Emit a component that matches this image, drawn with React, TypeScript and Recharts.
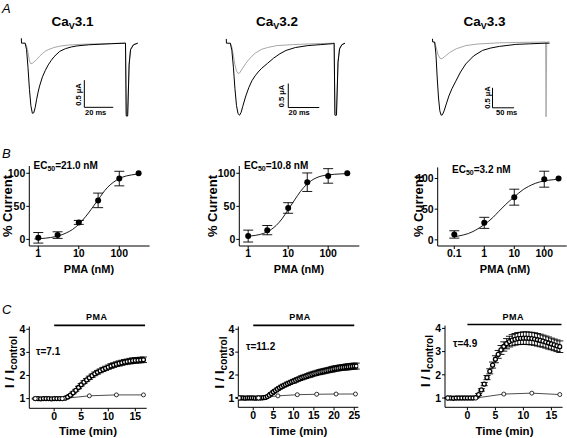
import React from "react";
import {
  ComposedChart,
  Line,
  Scatter,
  XAxis,
  YAxis,
  ErrorBar,
  ReferenceLine,
} from "recharts";

const FONT = "'Liberation Sans', Arial, Helvetica, sans-serif";

// A: current traces, [time (ms), current (uA)]; grey = control, black = PMA
const a1Control = [
  [0, 0], [1, -0.05], [2, -0.17], [3, -0.33], [4, -0.38], [5, -0.37], [6, -0.35],
  [8, -0.3], [10, -0.24], [12, -0.19], [14, -0.15], [16, -0.12], [20, -0.08],
  [24, -0.055], [30, -0.035], [40, -0.02], [55, -0.01], [69.5, 0], [70, -1.3],
  [71, -1.3], [72, -0.38], [73, -0.11], [75, -0.03], [78, 0],
];
const a1Pma = [
  [-2.6, 0.09], [-2.5, 0], [0, 0], [1, -0.12], [2, -0.45], [3, -0.85], [4, -1.15],
  [5, -1.29], [6, -1.28], [7, -1.18], [8, -1.03], [9, -0.9], [10, -0.79],
  [12, -0.62], [14, -0.5], [16, -0.4], [18, -0.32], [20, -0.25], [24, -0.15],
  [28, -0.1], [32, -0.07], [36, -0.05], [44, -0.03], [52, -0.02], [60, -0.01],
  [69.5, 0], [70, -1.34], [71, -1.34], [72, -0.4], [73, -0.12], [75, -0.03], [78, 0],
];
const a2Control = [
  [0, 0], [1, -0.08], [2, -0.25], [3, -0.45], [4, -0.58], [5, -0.63], [6, -0.62],
  [8, -0.52], [10, -0.42], [12, -0.34], [14, -0.27], [16, -0.21], [20, -0.13],
  [24, -0.09], [30, -0.05], [40, -0.03], [55, -0.01], [67, 0], [67.5, -1.45],
  [68.5, -1.45], [69.5, -0.38], [70.5, -0.1], [72, -0.03], [74, 0],
];
const a2Pma = [
  [-2.6, 0.09], [-2.5, 0], [0, 0], [1, -0.15], [2, -0.5], [3, -0.95], [4, -1.3],
  [5, -1.47], [6, -1.5], [7, -1.44], [8, -1.32], [10, -1.1], [12, -0.92],
  [14, -0.78], [16, -0.68], [18, -0.6], [20, -0.53], [24, -0.42], [28, -0.31],
  [32, -0.22], [36, -0.15], [42, -0.09], [50, -0.05], [58, -0.03], [66, -0.01],
  [67, 0], [67.5, -1.5], [68.5, -1.5], [69.5, -0.4], [70.5, -0.12], [72, -0.03], [74, 0],
];
const a3Control = [
  [0, 0], [4, -0.15], [8, -0.32], [12, -0.4], [15, -0.42], [18, -0.41], [25, -0.35],
  [35, -0.26], [50, -0.17], [72, -0.09], [100, -0.05], [150, -0.02], [200, -0.01],
  [257, 0], [258, -1.87], [259.5, 0], [266, 0],
];
const a3Pma = [
  [-5, 0.08], [-4.5, 0], [0, 0], [3, -0.3], [6, -0.9], [9, -1.4], [12, -1.72],
  [15, -1.83], [18, -1.82], [22, -1.72], [27, -1.55], [33, -1.35], [40, -1.17],
  [49, -0.98], [60, -0.75], [72, -0.55], [90, -0.35], [111, -0.21], [130, -0.15],
  [150, -0.11], [188, -0.06], [220, -0.045], [256, -0.03], [266, -0.03],
];

// B: dose-response, PMA (nM) vs % current
const conc31 = [1, 3, 10, 30, 100, 300];
const current31 = [2.4, 6.5, 25.7, 59, 92, 100];
const sem31 = [8, 5, 3, 11, 11, 0];
const fitConc31 = [0.8, 1, 1.5, 2, 3, 5, 7, 10, 15, 20, 30, 50, 70, 100, 150, 200, 300];
const fit31 = [0.6, 1, 1.8, 2.8, 5, 10, 15, 23, 35, 45, 60, 78, 86, 92, 96, 97.5, 99];

const conc32 = [1, 3, 10, 30, 100, 300];
const current32 = [5, 14, 47.5, 86.5, 96, 100];
const sem32 = [9, 7, 8, 14, 11, 0];
const fitConc32 = [1, 1.5, 2, 3, 5, 7, 10, 15, 20, 30, 50, 70, 100, 200, 300];
const fit32 = [5, 6, 7.5, 11.5, 21, 31, 45, 61, 72, 84, 93, 96, 97.5, 99, 99.5];

const conc33 = [0.1, 1, 10, 100, 300];
const current33 = [8.8, 27.7, 69.5, 98.8, 100];
const sem33 = [6, 9, 13, 13, 0];
const fitConc33 = [0.1, 0.2, 0.3, 0.5, 1, 2, 3, 5, 10, 20, 30, 50, 100, 200, 300];
const fit33 = [5, 8, 10.5, 15.5, 25, 37, 46, 57, 70, 82, 87, 92, 96, 98, 99];

// C: time course, [time (min), I/Icontrol, sem]
const c1Pma = [
  [-3.5, 1.0, 0.02], [-3, 1.0, 0.02], [-2.5, 0.99, 0.02], [-2, 1.0, 0.02], [-1.5, 1.0, 0.02],
  [-1, 1.0, 0.02], [-0.5, 0.99, 0.02], [0, 1.0, 0.02], [0.5, 1.0, 0.02], [1, 1.0, 0.02],
  [1.5, 1.0, 0.02], [2, 1.02, 0.02], [2.5, 1.07, 0.03], [3, 1.15, 0.03], [3.5, 1.25, 0.04],
  [4, 1.36, 0.04], [4.5, 1.48, 0.05], [5, 1.6, 0.05], [5.5, 1.71, 0.06], [6, 1.81, 0.06],
  [6.5, 1.9, 0.07], [7, 1.99, 0.07], [7.5, 2.07, 0.08], [8, 2.14, 0.08], [8.5, 2.2, 0.08],
  [9, 2.26, 0.09], [9.5, 2.31, 0.09], [10, 2.36, 0.09], [10.5, 2.41, 0.1], [11, 2.45, 0.1],
  [11.5, 2.49, 0.1], [12, 2.52, 0.11], [12.5, 2.55, 0.11], [13, 2.58, 0.11], [13.5, 2.6, 0.11],
  [14, 2.62, 0.12], [14.5, 2.64, 0.12], [15, 2.65, 0.12], [15.5, 2.66, 0.12], [16, 2.67, 0.12],
  [16.5, 2.68, 0.12],
];
const c1Control = [[-3.5, 1.0], [1.5, 1.0], [6.5, 1.12], [11.5, 1.16], [16.5, 1.16]];

const c2Pma = [
  [-3.5, 1.0, 0.02], [-3, 1.0, 0.02], [-2.5, 1.0, 0.02], [-2, 0.99, 0.02], [-1.5, 1.0, 0.02],
  [-1, 1.0, 0.02], [-0.5, 1.0, 0.02], [0, 1.0, 0.02], [0.5, 0.99, 0.02], [1, 1.0, 0.02],
  [1.5, 1.0, 0.02], [2, 1.0, 0.02], [2.5, 1.01, 0.02], [3, 1.02, 0.02], [3.5, 1.06, 0.03],
  [4, 1.12, 0.03], [4.5, 1.19, 0.04], [5, 1.26, 0.04], [5.5, 1.32, 0.05], [6, 1.38, 0.05],
  [6.5, 1.44, 0.05], [7, 1.49, 0.06], [7.5, 1.54, 0.06], [8, 1.58, 0.06], [8.5, 1.62, 0.07],
  [9, 1.66, 0.07], [9.5, 1.7, 0.07], [10, 1.73, 0.08], [10.5, 1.77, 0.08], [11, 1.81, 0.08],
  [11.5, 1.84, 0.08], [12, 1.88, 0.09], [12.5, 1.91, 0.09], [13, 1.94, 0.09], [13.5, 1.97, 0.09],
  [14, 2.0, 0.1], [14.5, 2.03, 0.1], [15, 2.06, 0.1], [15.5, 2.08, 0.1], [16, 2.11, 0.1],
  [16.5, 2.13, 0.11], [17, 2.15, 0.11], [17.5, 2.17, 0.11], [18, 2.19, 0.11], [18.5, 2.21, 0.11],
  [19, 2.23, 0.11], [19.5, 2.25, 0.12], [20, 2.27, 0.12], [20.5, 2.29, 0.12], [21, 2.3, 0.12],
  [21.5, 2.32, 0.12], [22, 2.33, 0.12], [22.5, 2.34, 0.12], [23, 2.35, 0.13], [23.5, 2.36, 0.13],
  [24, 2.37, 0.13], [24.5, 2.38, 0.13], [25, 2.39, 0.13], [25.5, 2.39, 0.13],
];
const c2Control = [[-3.5, 1.0], [1.3, 1.0], [6.1, 1.09], [10.9, 1.14], [15.7, 1.16], [20.5, 1.17], [25.3, 1.17]];

const c3Pma = [
  [-3.5, 1.0, 0.02], [-3, 1.0, 0.02], [-2.5, 0.99, 0.02], [-2, 1.0, 0.02], [-1.5, 1.0, 0.02],
  [-1, 1.0, 0.02], [-0.5, 1.0, 0.02], [0, 1.0, 0.02], [0.5, 1.0, 0.02], [1, 1.0, 0.02],
  [1.5, 1.02, 0.03], [2, 1.15, 0.04], [2.5, 1.35, 0.05], [3, 1.6, 0.07], [3.5, 1.88, 0.09],
  [4, 2.15, 0.11], [4.5, 2.42, 0.13], [5, 2.67, 0.15], [5.5, 2.88, 0.17], [6, 3.07, 0.19],
  [6.5, 3.22, 0.2], [7, 3.34, 0.22], [7.5, 3.43, 0.23], [8, 3.49, 0.24], [8.5, 3.53, 0.25],
  [9, 3.56, 0.26], [9.5, 3.57, 0.26], [10, 3.58, 0.27], [10.5, 3.58, 0.27], [11, 3.57, 0.27],
  [11.5, 3.56, 0.27], [12, 3.54, 0.27], [12.5, 3.51, 0.27], [13, 3.48, 0.27], [13.5, 3.45, 0.26],
  [14, 3.41, 0.26], [14.5, 3.37, 0.26], [15, 3.33, 0.25], [15.5, 3.29, 0.25], [16, 3.25, 0.25],
  [16.5, 3.21, 0.25],
];
const c3Control = [[-3.5, 1.0], [1.5, 1.0], [6.5, 1.17], [11.5, 1.21], [16.5, 1.15]];

const axisProps = {
  axisLine: { stroke: "#000", strokeWidth: 1 },
  tickLine: { stroke: "#000", strokeWidth: 1 },
  tickSize: 3,
  tickMargin: 1,
  tick: { fill: "#000", fontSize: 10.5, fontWeight: 700, fontFamily: FONT },
};

const Box = ({ left, top, children }: any) => (
  <div style={{ position: "absolute", left, top }}>{children}</div>
);

const TracePanel = ({ left, top, width, height, xDomain, yDomain, control, pma, bar }: any) => {
  const greyData = control.map(([t, i]: number[]) => ({ t, i }));
  const blackData = pma.map(([t, i]: number[]) => ({ t, i }));
  return (
    <Box left={left} top={top}>
      <ComposedChart width={width} height={height} margin={{ top: 0, right: 0, bottom: 0, left: 0 }}>
        <XAxis type="number" dataKey="t" domain={xDomain} hide allowDataOverflow />
        <YAxis type="number" domain={yDomain} hide allowDataOverflow />
        <Line data={greyData} dataKey="i" type="linear" stroke="#a6a6a6" strokeWidth={1} dot={false} isAnimationActive={false} />
        <Line data={blackData} dataKey="i" type="linear" stroke="#000" strokeWidth={1} dot={false} isAnimationActive={false} />
        <ReferenceLine
          segment={[{ x: bar.t, y: bar.i }, { x: bar.t, y: bar.i + 0.5 }]}
          stroke="#000"
          strokeWidth={1}
          ifOverflow="visible"
        />
        <ReferenceLine
          segment={[{ x: bar.t, y: bar.i }, { x: bar.t + bar.dt, y: bar.i }]}
          stroke="#000"
          strokeWidth={1}
          ifOverflow="visible"
        />
      </ComposedChart>
    </Box>
  );
};

const DosePanel = ({ left, top, width, yWidth, marginTop, marginRight, xDomain, yDomain, xTicks, conc, current, sem, fitConc, fit }: any) => {
  const points = conc.map((c: number, k: number) => ({ c, v: current[k], err: sem[k] }));
  const curve = fitConc.map((c: number, k: number) => ({ c, v: fit[k] }));
  return (
    <Box left={left} top={top}>
      <ComposedChart width={width} height={120} margin={{ top: marginTop, right: marginRight, bottom: 0, left: 0 }}>
        <XAxis
          type="number"
          dataKey="c"
          scale="log"
          domain={xDomain}
          allowDataOverflow
          ticks={xTicks}
          interval={0}
          height={34}
          {...axisProps}
        />
        <YAxis type="number" domain={yDomain} allowDataOverflow ticks={[0, 50, 100]} interval={0} width={yWidth} {...axisProps} />
        <Line data={curve} dataKey="v" type="monotone" stroke="#000" strokeWidth={0.9} dot={false} isAnimationActive={false} />
        <Scatter
          data={points}
          dataKey="v"
          isAnimationActive={false}
          shape={(p: any) => <circle cx={p.cx} cy={p.cy} r={3} fill="#000" />}
        >
          <ErrorBar dataKey="err" direction="y" width={5} stroke="#000" strokeWidth={0.9} isAnimationActive={false} />
        </Scatter>
      </ComposedChart>
    </Box>
  );
};

const TimePanel = ({ left, top, width, yWidth, marginTop, marginRight, xHeight, xDomain, yDomain, xTicks, pma, control, pmaEnd }: any) => {
  const points = pma.map(([t, v, err]: number[]) => ({ t, v, err }));
  const ctrl = control.map(([t, v]: number[]) => ({ t, v }));
  return (
    <Box left={left} top={top}>
      <ComposedChart width={width} height={125} margin={{ top: marginTop, right: marginRight, bottom: 0, left: 0 }}>
        <XAxis type="number" dataKey="t" domain={xDomain} allowDataOverflow ticks={xTicks} interval={0} height={xHeight} {...axisProps} />
        <YAxis type="number" domain={yDomain} allowDataOverflow ticks={[1, 2, 3, 4]} interval={0} width={yWidth} {...axisProps} />
        <Scatter
          data={points}
          dataKey="v"
          isAnimationActive={false}
          shape={(p: any) => <circle cx={p.cx} cy={p.cy} r={2} fill="#fff" stroke="#000" strokeWidth={1.3} />}
        >
          <ErrorBar dataKey="err" direction="y" width={3.5} stroke="#000" strokeWidth={0.9} isAnimationActive={false} />
        </Scatter>
        <Line
          data={ctrl}
          dataKey="v"
          type="linear"
          stroke="#000"
          strokeWidth={0.7}
          dot={{ r: 2, fill: "#fff", stroke: "#000", strokeWidth: 0.8 }}
          isAnimationActive={false}
        />
        <ReferenceLine
          segment={[{ x: 0, y: 4.17 }, { x: pmaEnd, y: 4.17 }]}
          stroke="#000"
          strokeWidth={1.6}
          ifOverflow="visible"
        />
      </ComposedChart>
    </Box>
  );
};

const T = (props: any) => <text fontFamily={FONT} fill="#000" {...props} />;

const Title = ({ x, sub }: { x: number; sub: string }) => (
  <T x={x} y={26} textAnchor="middle" fontSize={13.5} fontWeight={700}>
    Ca<tspan fontSize={9} dy={3}>V</tspan>
    <tspan dy={-3}>{sub}</tspan>
  </T>
);

const Ec50 = ({ x, y, value }: { x: number; y: number; value: string }) => (
  <T x={x} y={y} fontSize={10} fontWeight={700}>
    EC<tspan fontSize={7} dy={2}>50</tspan>
    <tspan dy={-2}>={value}</tspan>
  </T>
);

const RotLabel = ({ x, y, children, size = 13 }: any) => (
  <T transform={`translate(${x},${y}) rotate(-90)`} textAnchor="middle" fontSize={size} fontWeight={700}>
    {children}
  </T>
);

const App = () => (
  <div
    style={{
      position: "absolute",
      left: 0,
      top: 0,
      width: 567,
      height: 438,
      overflow: "hidden",
      background: "#fff",
    }}
  >
    <TracePanel left={15} top={35} width={130} height={87} xDomain={[-7, 83]} yDomain={[-1.45, 0.15]}
      control={a1Control} pma={a1Pma} bar={{ t: 41, i: -1.18, dt: 20 }} />
    <TracePanel left={220.7} top={35.8} width={127.1} height={84} xDomain={[-6, 76]} yDomain={[-1.6, 0.15]}
      control={a2Control} pma={a2Pma} bar={{ t: 37.4, i: -1.34, dt: 20 }} />
    <TracePanel left={426.4} top={35.5} width={127.4} height={84} xDomain={[-20, 275]} yDomain={[-1.95, 0.15]}
      control={a3Control} pma={a3Pma} bar={{ t: 134, i: -1.645, dt: 50 }} />

    <DosePanel left={0} top={160} width={162} yWidth={29.3} marginTop={6} marginRight={12.4}
      xDomain={[0.6, 560]} yDomain={[-10, 111]} xTicks={[1, 10, 100]}
      conc={conc31} current={current31} sem={sem31} fitConc={fitConc31} fit={fit31} />
    <DosePanel left={200} top={160} width={170} yWidth={39.3} marginTop={6} marginRight={10.7}
      xDomain={[0.6, 600]} yDomain={[-10, 111]} xTicks={[1, 10, 100]}
      conc={conc32} current={current32} sem={sem32} fitConc={fitConc32} fit={fit32} />
    <DosePanel left={400} top={160} width={167} yWidth={37.7} marginTop={7.4} marginRight={0.3}
      xDomain={[0.028, 560]} yDomain={[-10, 118]} xTicks={[0.1, 1, 10, 100]}
      conc={conc33} current={current33} sem={sem33} fitConc={fitConc33} fit={fit33} />

    <TimePanel left={0} top={318} width={160} yWidth={29.3} marginTop={8.5} marginRight={13.3} xHeight={34.7}
      xDomain={[-4.6, 17.1]} yDomain={[0.58, 4.12]} xTicks={[0, 5, 10, 15]}
      pma={c1Pma} control={c1Control} pmaEnd={16.8} />
    <TimePanel left={200} top={318} width={167} yWidth={38.3} marginTop={8.5} marginRight={8.7} xHeight={35.7}
      xDomain={[-3.7, 26]} yDomain={[0.59, 4.12]} xTicks={[0, 5, 10, 15, 20, 25]}
      pma={c2Pma} control={c2Control} pmaEnd={25} />
    <TimePanel left={400} top={318} width={167} yWidth={45} marginTop={7.6} marginRight={4.4} xHeight={35.7}
      xDomain={[-4, 17]} yDomain={[0.6, 4.12]} xTicks={[0, 5, 10, 15]}
      pma={c3Pma} control={c3Control} pmaEnd={16.8} />

    <svg
      width={567}
      height={438}
      style={{ position: "absolute", left: 0, top: 0, pointerEvents: "none" }}
    >
      <T x={2} y={13} fontSize={13} fontStyle="italic">A</T>
      <T x={2} y={158} fontSize={13} fontStyle="italic">B</T>
      <T x={2} y={314} fontSize={13} fontStyle="italic">C</T>

      <Title x={72.5} sub="3.1" />
      <Title x={277} sub="3.2" />
      <Title x={484.5} sub="3.3" />

      <RotLabel x={80.5} y={94.5} size={7.5}>0.5 μA</RotLabel>
      <RotLabel x={284} y={96} size={7.5}>0.5 μA</RotLabel>
      <RotLabel x={489.5} y={97.5} size={7.5}>0.5 μA</RotLabel>
      <T x={85} y={115} fontSize={7.5} fontWeight={700}>20 ms</T>
      <T x={288.5} y={115} fontSize={7.5} fontWeight={700}>20 ms</T>
      <T x={496} y={115} fontSize={7.5} fontWeight={700}>50 ms</T>

      <Ec50 x={33.5} y={169} value="21.0 nM" />
      <Ec50 x={244} y={169} value="10.8 nM" />
      <Ec50 x={452} y={173} value="3.2 nM" />
      <RotLabel x={11.5} y={206}>% Current</RotLabel>
      <RotLabel x={216.5} y={206}>% Current</RotLabel>
      <RotLabel x={423} y={206}>% Current</RotLabel>
      <T x={89} y={272.5} textAnchor="middle" fontSize={11} fontWeight={700}>PMA (nM)</T>
      <T x={299} y={272.5} textAnchor="middle" fontSize={11} fontWeight={700}>PMA (nM)</T>
      <T x={505} y={272.5} textAnchor="middle" fontSize={11} fontWeight={700}>PMA (nM)</T>

      <T x={96.7} y={319.5} textAnchor="middle" fontSize={9} fontWeight={700} letterSpacing={0.5}>PMA</T>
      <T x={300} y={319.5} textAnchor="middle" fontSize={9} fontWeight={700} letterSpacing={0.5}>PMA</T>
      <T x={513.3} y={319.5} textAnchor="middle" fontSize={9} fontWeight={700} letterSpacing={0.5}>PMA</T>
      <T x={36} y={355} fontSize={10} fontWeight={700}>τ=7.1</T>
      <T x={246} y={349.5} fontSize={10} fontWeight={700}>τ=11.2</T>
      <T x={453} y={347} fontSize={10} fontWeight={700}>τ=4.9</T>
      <RotLabel x={14} y={362}>
        I / I<tspan fontSize={10} dy={3}>control</tspan>
      </RotLabel>
      <RotLabel x={224} y={362.5}>
        I / I<tspan fontSize={10} dy={3}>control</tspan>
      </RotLabel>
      <RotLabel x={430} y={361}>
        I / I<tspan fontSize={10} dy={3}>control</tspan>
      </RotLabel>
      <T x={88} y={434.5} textAnchor="middle" fontSize={11.5} fontWeight={700}>Time (min)</T>
      <T x={298.3} y={434.5} textAnchor="middle" fontSize={11.5} fontWeight={700}>Time (min)</T>
      <T x={504.5} y={434.5} textAnchor="middle" fontSize={11.5} fontWeight={700}>Time (min)</T>
    </svg>
  </div>
);

export default App;
